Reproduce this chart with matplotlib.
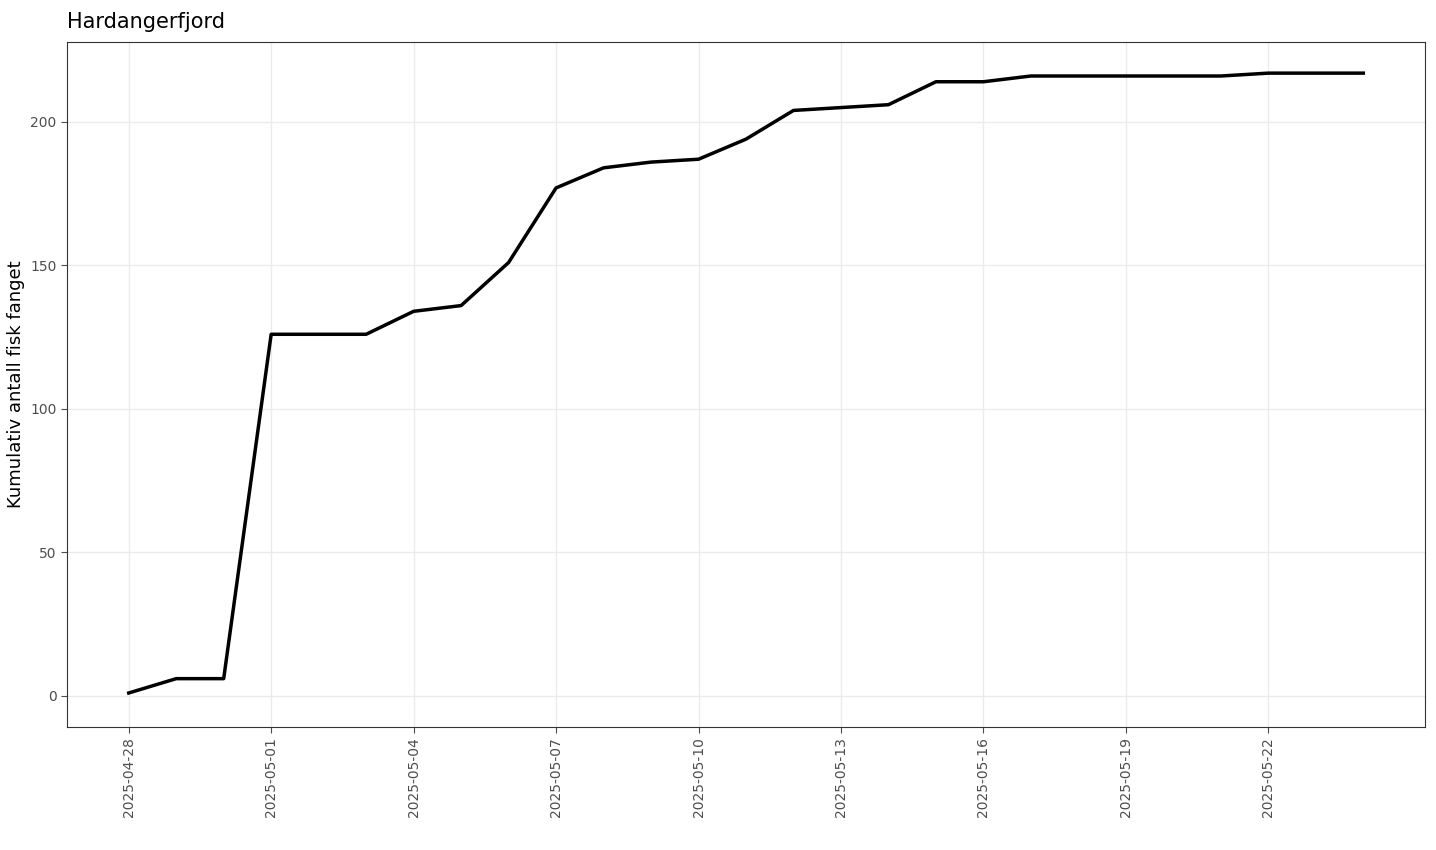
import matplotlib
matplotlib.use("Agg")
import matplotlib.pyplot as plt
import matplotlib.dates as mdates
import pandas as pd

datoer = pd.date_range("2025-04-28", "2025-05-24", freq="D")
kumulativ = [1, 6, 6, 126, 126, 126, 134, 136, 151, 177, 184, 186, 187, 194,
             204, 205, 206, 214, 214, 216, 216, 216, 216, 216, 217, 217, 217]

fig = plt.figure(figsize=(14.36, 8.5), dpi=100)
ax = fig.add_axes([67 / 1436, 1 - 727 / 850, (1425 - 67) / 1436, (727 - 42) / 850])

ax.plot(datoer, kumulativ, color="black", linewidth=2.5)

span = datoer[-1] - datoer[0]
ax.set_xlim(datoer[0] - span * 0.05, datoer[-1] + span * 0.05)
ax.set_ylim(-217 * 0.05, 217 * 1.05)

ax.xaxis.set_major_locator(mdates.DayLocator(bymonthday=[1, 4, 7, 10, 13, 16, 19, 22, 28]))
ax.xaxis.set_major_formatter(mdates.DateFormatter("%Y-%m-%d"))
ax.set_xticks(pd.date_range("2025-04-28", "2025-05-24", freq="3D"))
ax.set_yticks([0, 50, 100, 150, 200])
plt.setp(ax.get_xticklabels(), rotation=90)
ax.tick_params(labelsize=10, colors="#4d4d4d", length=4)
ax.tick_params(axis="x", labelcolor="#4d4d4d")

ax.grid(True, color="#ebebeb", linewidth=1)
ax.set_axisbelow(True)
for s in ax.spines.values():
    s.set_color("#333333")
    s.set_linewidth(0.8)

ax.set_ylabel("Kumulativ antall fisk fanget", fontsize=13)
ax.set_title("Hardangerfjord", loc="left", fontsize=15, pad=10)

fig.savefig("out.png", dpi=100)
